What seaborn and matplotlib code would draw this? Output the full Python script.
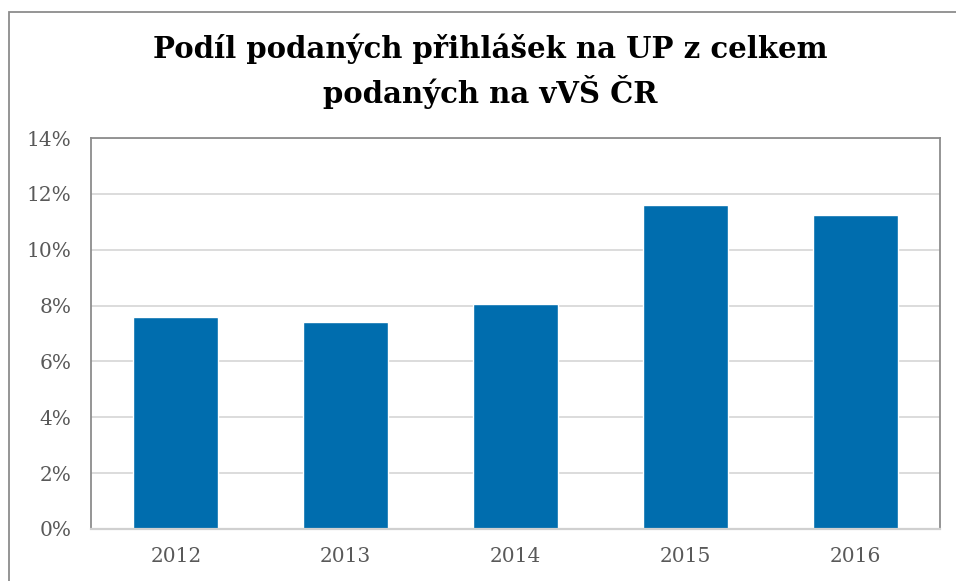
import pandas as pd
import matplotlib.pyplot as plt
import matplotlib.patches as patches
import seaborn as sns

# Data
years = ['2012', '2013', '2014', '2015', '2016']
share = [7.59, 7.41, 8.06, 11.60, 11.24]

title = 'Podíl podaných přihlášek na UP z celkem\npodaných na vVŠ ČR'

sns.set_style('white')
plt.rcParams['font.family'] = ['DejaVu Serif', 'DejaVu Sans']

df = pd.DataFrame({'rok': years, 'podil': share})

fig = plt.figure(figsize=(9.56, 5.81), dpi=100)
ax = fig.add_axes([91 / 956, 1 - 529 / 581, (940 - 91) / 956, (529 - 138) / 581])

sns.barplot(x='rok', y='podil', data=df, color='#006dae', width=0.5,
            saturation=1, ax=ax)

ax.set_ylim(0, 14)
ax.set_yticks(range(0, 15, 2))
ax.set_yticklabels([f'{v}%' for v in range(0, 15, 2)])
ax.yaxis.grid(True, color='#d9d9d9', linewidth=1.3)
ax.set_axisbelow(True)
ax.set_xlabel('')
ax.set_ylabel('')
ax.tick_params(axis='both', length=0, labelsize=14.5, colors='#595959')
ax.tick_params(axis='y', pad=14)
ax.tick_params(axis='x', pad=13)

for side in ['left', 'top', 'right']:
    ax.spines[side].set_color('#8c8c8c')
    ax.spines[side].set_linewidth(1.3)
ax.spines['bottom'].set_color('#d0d0d0')
ax.spines['bottom'].set_linewidth(1.6)

fig.text(490 / 956, 1 - 71 / 581, title, ha='center', va='center',
         fontsize=21, fontweight='bold', color='black', linespacing=1.38)

# outer chart border
fig.patches.append(patches.Rectangle((9 / 956, -0.1), 1.2, 1 - 12 / 581 + 0.1,
                                     transform=fig.transFigure, fill=False,
                                     edgecolor='#8c8c8c', linewidth=1.3))

plt.savefig('out.png', dpi=100)
plt.close()
